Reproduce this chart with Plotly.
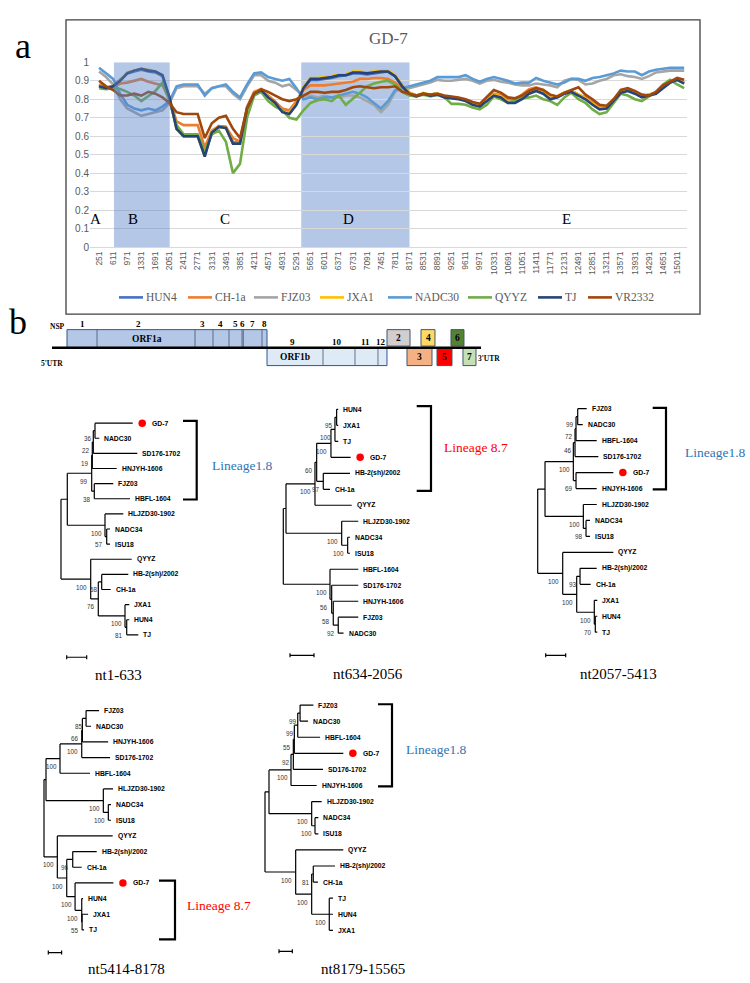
import plotly.graph_objects as go

W, H = 750, 983

# ================= panel a : similarity plot data =================
window_pos = list(range(251, 15192, 180))          # window centres (bp)
tick_pos = list(range(251, 15012, 360))            # category labels shown
series_names = ["HUN4", "CH-1a", "FJZ03", "JXA1", "NADC30", "QYYZ", "TJ", "VR2332"]
series_colors = ["#4472C4", "#ED7D31", "#A5A5A5", "#FFC000", "#5B9BD5", "#70AD47", "#264478", "#9E480E"]

HUN4 = [0.875, 0.865, 0.87, 0.905, 0.94, 0.95, 0.96, 0.95, 0.945, 0.925, 0.80, 0.64,
        0.60, 0.60, 0.60, 0.50, 0.62, 0.655, 0.65, 0.565, 0.565, 0.755, 0.835, 0.85,
        0.815, 0.785, 0.74, 0.725, 0.775, 0.86, 0.905, 0.905, 0.91, 0.915, 0.925, 0.93,
        0.94, 0.94, 0.935, 0.94, 0.945, 0.95, 0.925, 0.875, 0.835, 0.82, 0.83, 0.825,
        0.83, 0.815, 0.81, 0.805, 0.795, 0.775, 0.765, 0.795, 0.825, 0.815, 0.785, 0.785,
        0.805, 0.835, 0.85, 0.835, 0.805, 0.81, 0.83, 0.845, 0.825, 0.805, 0.775, 0.75,
        0.755, 0.795, 0.84, 0.85, 0.835, 0.815, 0.825, 0.835, 0.865, 0.89, 0.905, 0.89]
CH1a = [0.88, 0.86, 0.865, 0.885, 0.89, 0.90, 0.91, 0.895, 0.885, 0.875, 0.80, 0.68,
        0.66, 0.66, 0.66, 0.54, 0.63, 0.655, 0.65, 0.59, 0.57, 0.76, 0.84, 0.855,
        0.82, 0.79, 0.75, 0.74, 0.79, 0.85, 0.875, 0.875, 0.875, 0.88, 0.885, 0.89,
        0.895, 0.91, 0.91, 0.915, 0.915, 0.91, 0.89, 0.855, 0.835, 0.82, 0.83, 0.825,
        0.83, 0.815, 0.81, 0.805, 0.795, 0.78, 0.77, 0.80, 0.83, 0.82, 0.80, 0.80,
        0.825, 0.855, 0.865, 0.85, 0.82, 0.815, 0.835, 0.845, 0.825, 0.81, 0.785, 0.76,
        0.76, 0.80, 0.84, 0.85, 0.835, 0.815, 0.825, 0.835, 0.865, 0.89, 0.905, 0.89]
FJZ03 = [0.95, 0.92, 0.88, 0.80, 0.75, 0.73, 0.71, 0.72, 0.73, 0.74, 0.78, 0.86,
         0.87, 0.87, 0.87, 0.83, 0.86, 0.87, 0.87, 0.83, 0.80, 0.87, 0.93, 0.93,
         0.90, 0.89, 0.87, 0.88, 0.85, 0.82, 0.82, 0.81, 0.82, 0.81, 0.81, 0.82,
         0.82, 0.81, 0.79, 0.77, 0.73, 0.77, 0.84, 0.86, 0.86, 0.87, 0.88, 0.89,
         0.905, 0.90, 0.90, 0.905, 0.91, 0.90, 0.885, 0.90, 0.905, 0.895, 0.89, 0.88,
         0.875, 0.875, 0.885, 0.88, 0.875, 0.865, 0.90, 0.91, 0.905, 0.88, 0.885, 0.90,
         0.91, 0.93, 0.935, 0.925, 0.92, 0.91, 0.925, 0.945, 0.95, 0.955, 0.955, 0.955]
JXA1 = [0.87, 0.86, 0.87, 0.90, 0.945, 0.955, 0.965, 0.96, 0.95, 0.93, 0.81, 0.64,
        0.60, 0.60, 0.60, 0.49, 0.625, 0.65, 0.645, 0.56, 0.56, 0.75, 0.83, 0.855,
        0.815, 0.78, 0.735, 0.725, 0.775, 0.865, 0.915, 0.915, 0.92, 0.925, 0.935, 0.935,
        0.95, 0.95, 0.945, 0.95, 0.955, 0.955, 0.93, 0.875, 0.835, 0.82, 0.835, 0.825,
        0.83, 0.815, 0.81, 0.805, 0.795, 0.775, 0.765, 0.795, 0.825, 0.815, 0.785, 0.785,
        0.805, 0.835, 0.85, 0.835, 0.805, 0.815, 0.835, 0.845, 0.825, 0.805, 0.775, 0.75,
        0.755, 0.795, 0.84, 0.85, 0.835, 0.815, 0.825, 0.835, 0.865, 0.89, 0.91, 0.89]
NADC30 = [0.97, 0.94, 0.91, 0.83, 0.77, 0.75, 0.74, 0.75, 0.74, 0.76, 0.79, 0.87,
          0.88, 0.88, 0.88, 0.82, 0.86, 0.87, 0.88, 0.84, 0.81, 0.88, 0.94, 0.945,
          0.92, 0.91, 0.90, 0.91, 0.86, 0.80, 0.81, 0.80, 0.81, 0.81, 0.82, 0.83,
          0.84, 0.83, 0.81, 0.78, 0.75, 0.79, 0.85, 0.86, 0.87, 0.88, 0.89, 0.90,
          0.92, 0.92, 0.92, 0.92, 0.93, 0.91, 0.895, 0.91, 0.92, 0.91, 0.90, 0.885,
          0.89, 0.89, 0.915, 0.90, 0.89, 0.88, 0.89, 0.91, 0.91, 0.90, 0.915, 0.92,
          0.93, 0.94, 0.955, 0.95, 0.95, 0.93, 0.95, 0.96, 0.965, 0.97, 0.97, 0.97]
QYYZ = [0.86, 0.855, 0.86, 0.855, 0.84, 0.82, 0.79, 0.82, 0.845, 0.89, 0.79, 0.66,
        0.61, 0.61, 0.61, 0.52, 0.61, 0.63, 0.57, 0.40, 0.45, 0.70, 0.82, 0.84,
        0.79, 0.76, 0.74, 0.70, 0.69, 0.74, 0.78, 0.795, 0.80, 0.79, 0.82, 0.77,
        0.80, 0.835, 0.87, 0.885, 0.895, 0.90, 0.88, 0.84, 0.82, 0.815, 0.825, 0.815,
        0.825, 0.81, 0.775, 0.775, 0.77, 0.755, 0.745, 0.77, 0.815, 0.80, 0.78, 0.795,
        0.805, 0.81, 0.82, 0.80, 0.79, 0.77, 0.81, 0.835, 0.80, 0.78, 0.745, 0.72,
        0.73, 0.78, 0.83, 0.82, 0.80, 0.79, 0.815, 0.84, 0.88, 0.905, 0.88, 0.86]
TJ = [0.87, 0.86, 0.87, 0.90, 0.94, 0.955, 0.965, 0.955, 0.95, 0.93, 0.81, 0.64,
      0.60, 0.60, 0.60, 0.49, 0.62, 0.65, 0.645, 0.56, 0.56, 0.75, 0.83, 0.85,
      0.81, 0.78, 0.73, 0.72, 0.77, 0.86, 0.91, 0.91, 0.915, 0.92, 0.93, 0.93,
      0.945, 0.945, 0.94, 0.945, 0.95, 0.95, 0.925, 0.87, 0.83, 0.815, 0.83, 0.82,
      0.825, 0.81, 0.805, 0.80, 0.79, 0.77, 0.76, 0.79, 0.82, 0.81, 0.78, 0.78,
      0.80, 0.83, 0.845, 0.83, 0.80, 0.81, 0.83, 0.84, 0.82, 0.80, 0.77, 0.745,
      0.75, 0.79, 0.835, 0.845, 0.83, 0.81, 0.82, 0.83, 0.86, 0.89, 0.905, 0.885]
VR2332 = [0.90, 0.87, 0.85, 0.82, 0.82, 0.83, 0.82, 0.84, 0.83, 0.81, 0.78, 0.73,
          0.72, 0.72, 0.72, 0.59, 0.67, 0.70, 0.71, 0.64, 0.59, 0.75, 0.83, 0.855,
          0.84, 0.82, 0.80, 0.79, 0.80, 0.82, 0.84, 0.84, 0.835, 0.84, 0.84, 0.85,
          0.865, 0.87, 0.865, 0.86, 0.865, 0.865, 0.87, 0.84, 0.83, 0.82, 0.83, 0.825,
          0.83, 0.82, 0.815, 0.81, 0.80, 0.785, 0.775, 0.81, 0.85, 0.835, 0.81, 0.805,
          0.82, 0.845, 0.86, 0.85, 0.825, 0.815, 0.835, 0.85, 0.865, 0.825, 0.80, 0.77,
          0.765, 0.80, 0.85, 0.86, 0.845, 0.825, 0.82, 0.84, 0.875, 0.895, 0.915, 0.905]
series_values = [HUN4, CH1a, FJZ03, JXA1, NADC30, QYYZ, TJ, VR2332]

shaded_regions = [[634, 2056], [5414, 8178]]
region_letters = ["A", "B", "C", "D", "E"]
region_letter_pos = [174, 1119, 3468, 6608, 12199]

# ================= panel b : genome map data (schematic units 0-100) =================
orf_labels = ["ORF1a", "ORF1b", "2", "3", "4", "5", "6", "7"]
orf_start = [1.66, 49.17, 77.67, 82.42, 85.75, 89.55, 92.87, 95.72]
orf_end = [49.17, 77.67, 83.14, 88.36, 89.07, 93.11, 95.96, 98.81]
orf_row = [1, -1, 1, -1, 1, -1, 1, -1]
orf_fill = ["#B4C7E7", "#DEEBF7", "#D0CECE", "#F4B183", "#FFD966", "#FF0000", "#548235", "#C5E0B4"]
orf_text_pos = [20.67, 55.82, None, None, None, None, None, None]
nsp_bounds_1a = [8.79, 32.07, 36.34, 40.14, 43.23, 43.54, 47.98]
nsp_bounds_1b = [62.47, 70.07, 75.53]
nsp_labels = ["1", "2", "3", "4", "5", "6", "7", "8", "9", "10", "11", "12"]
nsp_label_pos = [5.23, 18.53, 33.73, 38.24, 41.57, 43.23, 45.84, 48.69, 55.34, 65.8, 72.68, 76.25]

# ================= phylogenetic trees (Newick, substitutions/site) =================
TREE_1 = ("(((((('GD-7':0.0377,NADC30:0.0043)36:0.0017,SD176-1702:0.044)22:0.001,HNJYH-1606:0.0244)19:0.0006,"
          "(FJZ03:0.019,HBFL-1604:0.0357)38:0.0026)99:0.0244,(HLJZD30-1902:0.0183,(NADC34:0.0033,ISU18:0.0033)57:0.0017)100:0.0377):0.0063,"
          "(QYYZ:0.041,(('HB-2(sh)/2002':0.0266,CH-1a:0.009)58:0.0034,(JXA1:0.0043,(HUN4:0.0026,TJ:0.0116)81:0.0017)100:0.0267)76:0.0076)100:0.0297);")
TREE_2 = ("(((((((HUN4:0.0033,JXA1:0.0033)95:0.0035,TJ:0.0069)100:0.0083,'GD-7':0.041)100:0.0298,"
          "('HB-2(sh)/2002':0.0556,CH-1a:0.014)97:0.0138)60:0.0035,QYYZ:0.0765)100:0.0604,"
          "(HLJZD30-1902:0.0346,(NADC34:0.0048,ISU18:0.0048)100:0.0125)100:0.116):0.0056,"
          "(HBFL-1604:0.059,(SD176-1702:0.0554,(HNJYH-1606:0.0521,(FJZ03:0.0417,NADC30:0.011)92:0.0104)58:0.0033)56:0.0035)100:0.0973);")
TREE_3 = ("((((((FJZ03:0.0225,NADC30:0.0125)99:0.0042,HBFL-1604:0.0517)72:0.0025,SD176-1702:0.0583)46:0.0042,"
          "('GD-7':0.0933,HNJYH-1606:0.0517)69:0.0067)100:0.0708,(HLJZD30-1902:0.0335,(NADC34:0.01,ISU18:0.01)98:0.0067)100:0.0958):0.0183,"
          "(QYYZ:0.1265,(('HB-2(sh)/2002':0.0417,CH-1a:0.0267)93:0.0083,(JXA1:0.0075,(HUN4:0.005,TJ:0.005)70:0.0025)100:0.044)100:0.035)100:0.0625);")
TREE_4 = ("((((((FJZ03:0.0195,NADC30:0.0075)85:0.0055,HNJYH-1606:0.0386)66:0.001,SD176-1702:0.0425)100:0.0326,HBFL-1604:0.045)100:0.021,"
          "(HLJZD30-1902:0.0146,(NADC34:0.004,ISU18:0.004)100:0.0075)100:0.086):0.003,"
          "(QYYZ:0.083,(('HB-2(sh)/2002':0.036,CH-1a:0.0135)96:0.009,('GD-7':0.0575,(HUN4:0.002,(JXA1:0.009,TJ:0.003)55:0.0005)100:0.01)100:0.0125)100:0.0141)100:0.02);")
TREE_5 = ("(((((((FJZ03:0.02,NADC30:0.012)99:0.0035,HBFL-1604:0.0335)99:0.0051,'GD-7':0.0735)55:0.0015,SD176-1702:0.0445)92:0.0035,HNJYH-1606:0.0385)100:0.033,"
          "(HLJZD30-1902:0.015,(NADC34:0.005,ISU18:0.005)100:0.005)100:0.064):0.006,"
          "(QYYZ:0.0714,(('HB-2(sh)/2002':0.0326,CH-1a:0.007)81:0.0024,(TJ:0.0055,HUN4:0.0055,JXA1:0.0055)100:0.0264)100:0.024)100:0.046);")
tree_titles = ["nt1-633", "nt634-2056", "nt2057-5413", "nt5414-8178", "nt8179-15565"]
tree_scale_values = [0.02, 0.05, 0.05, 0.02, 0.02]
tree_scale_labels = ["0.02", "0.05", "0.050", "0.02", "0.02"]
tree_lineages = [("GD-7", "HBFL-1604", "Lineage1.8"), ("HUN4", "CH-1a", "Lineage 8.7"),
                 ("FJZ03", "HNJYH-1606", "Lineage1.8"), ("GD-7", "TJ", "Lineage 8.7"),
                 ("FJZ03", "HNJYH-1606", "Lineage1.8")]

# ------------------------------------------------------------------
BLUE_TXT = "#2E75B6"
RED_TXT = "#FF0000"
SERIF = "Liberation Serif"
SANS = "Liberation Sans"


def px2paper(px, py):
    return px / W, 1 - py / H


def paper_text(text, px, py, size, color="black", family=SERIF, xanchor="center"):
    x, y = px2paper(px, py)
    return dict(text=text, x=x, y=y, xref="paper", yref="paper", xanchor=xanchor, yanchor="middle",
                showarrow=False, font=dict(family=family, size=size, color=color))


fig = go.Figure()
annotations = []
shapes = []
layout_axes = {}

# ---------------- panel a ----------------
for name, col, vals in zip(series_names, series_colors, series_values):
    fig.add_trace(go.Scatter(x=window_pos, y=vals, mode="lines", name=name,
                             line=dict(color=col, width=2.6), xaxis="x", yaxis="y",
                             hoverinfo="skip", showlegend=False))

layout_axes["xaxis"] = dict(domain=[90 / W, 687 / W], range=[21, 15263], anchor="y",
                            tickmode="array", tickvals=tick_pos, ticktext=[str(t) for t in tick_pos],
                            tickangle=-90, tickfont=dict(family=SANS, size=8.5, color="#595959"),
                            showgrid=False, zeroline=False, showline=True, linecolor="#D9D9D9",
                            ticks="", fixedrange=True)
layout_axes["yaxis"] = dict(domain=[1 - 244 / H, 1 - 57 / H], range=[0, 1], anchor="x",
                            tick0=0, dtick=0.1, showgrid=True, gridcolor="#D9D9D9", gridwidth=1,
                            zeroline=False, showline=False, ticks="",
                            tickfont=dict(family=SANS, size=10, color="#595959"), fixedrange=True)

# shaded windows B (overlay) and D (underlay)
shapes.append(dict(type="rect", xref="x", yref="y", x0=shaded_regions[0][0], x1=shaded_regions[0][1],
                   y0=0, y1=1, fillcolor="rgba(88,130,202,0.45)", line=dict(width=0), layer="above"))
shapes.append(dict(type="rect", xref="x", yref="y", x0=shaded_regions[1][0], x1=shaded_regions[1][1],
                   y0=0, y1=1, fillcolor="#B4C7E7", line=dict(width=0), layer="below"))
for lt, lp in zip(region_letters, region_letter_pos):
    annotations.append(dict(text=lt, x=lp, y=0.15, xref="x", yref="y", showarrow=False,
                            xanchor="center", yanchor="middle",
                            font=dict(family=SERIF, size=15, color="black")))
# chart frame and title
fx0, fy0 = px2paper(66, 312)
fx1, fy1 = px2paper(700, 14)
shapes.append(dict(type="rect", xref="paper", yref="paper", x0=fx0, x1=fx1, y0=fy0, y1=fy1,
                   line=dict(color="#404040", width=1.3), fillcolor="rgba(0,0,0,0)", layer="above"))
annotations.append(paper_text("GD-7", 388, 33, 17, "#595959"))
annotations.append(paper_text("a", 23, 40, 36))
annotations.append(paper_text("b", 18, 320, 36))

# legend row (Excel style: short line key followed by the series name)
legend_key_px = [119, 188, 254, 320, 388, 468, 538, 588]
legend_py = 295
for name, col, kx in zip(series_names, series_colors, legend_key_px):
    lx0, ly0 = px2paper(kx, legend_py)
    lx1, _ = px2paper(kx + 24, legend_py)
    shapes.append(dict(type="line", xref="paper", yref="paper", x0=lx0, x1=lx1, y0=ly0, y1=ly0,
                       line=dict(color=col, width=2.6)))
    annotations.append(paper_text(name, kx + 25, legend_py, 11.5, "#595959", xanchor="left"))

# ---------------- panel b : genome map ----------------
# schematic unit u maps to pixel 60 + 4.21*u
layout_axes["xaxis2"] = dict(domain=[40 / W, 500 / W], range=[(40 - 60) / 4.21, (500 - 60) / 4.21],
                             anchor="y2", visible=False, fixedrange=True)
layout_axes["yaxis2"] = dict(domain=[1 - 371.5 / H, 1 - 318.8 / H], range=[-1.5, 1.6], anchor="x2",
                             visible=False, fixedrange=True)
TOP = (0.1, 1.08)
BOT = (-1.06, -0.04)
for i, (lab, s, e, row, fill) in enumerate(zip(orf_labels, orf_start, orf_end, orf_row, orf_fill)):
    y0, y1 = TOP if row > 0 else BOT
    if i == 0:
        y0 = 0.0
    shapes.append(dict(type="rect", xref="x2", yref="y2", x0=s, x1=e, y0=y0, y1=y1,
                       fillcolor=fill, line=dict(color="#2F5597" if i < 2 else "#44546A", width=1)))
    tpos = orf_text_pos[i] if orf_text_pos[i] is not None else (s + e) / 2
    annotations.append(dict(text="<b>%s</b>" % lab, x=tpos, y=(y0 + y1) / 2, xref="x2", yref="y2",
                            showarrow=False, xanchor="center", yanchor="middle",
                            font=dict(family=SERIF, size=9.5, color="black")))
for b in nsp_bounds_1a:
    shapes.append(dict(type="line", xref="x2", yref="y2", x0=b, x1=b, y0=0, y1=1.08,
                       line=dict(color="#44546A", width=0.8)))
for b in nsp_bounds_1b:
    shapes.append(dict(type="line", xref="x2", yref="y2", x0=b, x1=b, y0=-1.06, y1=-0.04,
                       line=dict(color="#44546A", width=0.8)))
shapes.append(dict(type="line", xref="x2", yref="y2", x0=-1.9, x1=100, y0=0, y1=0,
                   line=dict(color="black", width=2.5)))
for k, (lab, pos) in enumerate(zip(nsp_labels, nsp_label_pos)):
    annotations.append(dict(text="<b>%s</b>" % lab, x=pos, y=1.41 if k < 8 else 0.36, xref="x2", yref="y2",
                            showarrow=False, xanchor="center", yanchor="middle",
                            font=dict(family=SERIF, size=9, color="black")))
for txt, xx, yy in (("NSP", -0.6, 1.29), ("5'UTR", -1.9, -0.94), ("3'UTR", 101.9, -0.65)):
    annotations.append(dict(text="<b>%s</b>" % txt, x=xx, y=yy, xref="x2", yref="y2", showarrow=False,
                            xanchor="center", yanchor="middle",
                            font=dict(family=SERIF, size=7.5, color="black")))


# ---------------- trees ----------------
def parse_newick(s):
    pos = [0]

    def node():
        ch = []
        if s[pos[0]] == "(":
            pos[0] += 1
            while True:
                ch.append(node())
                c = s[pos[0]]
                pos[0] += 1
                if c == ")":
                    break
        label = ""
        if s[pos[0]] == "'":
            end = s.index("'", pos[0] + 1)
            label = s[pos[0] + 1:end]
            pos[0] = end + 1
        else:
            while s[pos[0]] not in ":,();":
                label += s[pos[0]]
                pos[0] += 1
        length = 0.0
        if s[pos[0]] == ":":
            pos[0] += 1
            num = ""
            while s[pos[0]] not in ",();":
                num += s[pos[0]]
                pos[0] += 1
            length = float(num)
        return {"label": label, "len": length, "children": ch}

    return node()


def assign(node, x, counter, leaves):
    node["x"] = x
    if not node["children"]:
        node["y"] = counter[0]
        counter[0] += 1
        leaves.append(node)
    else:
        for c in node["children"]:
            assign(c, x + c["len"], counter, leaves)
        node["y"] = (node["children"][0]["y"] + node["children"][-1]["y"]) / 2


def collect(node, xs, ys, internals):
    if node["children"]:
        internals.append(node)
        xs += [node["x"], node["x"], None]
        ys += [node["children"][0]["y"], node["children"][-1]["y"], None]
        for c in node["children"]:
            xs += [node["x"], c["x"], None]
            ys += [c["y"], c["y"], None]
            collect(c, xs, ys, internals)


# placement of each tree panel on the page (pixels)
tree_place = [
    dict(root_px=61.0, upp=0.001, leaf0=422.3, sp=15.31, box=(55, 250, 400, 668),
         br=(183, 196.7, 0.15, 0.05), lin=(210, 465, BLUE_TXT), bar=(66.7, 659.3, 670), title=(118, 677)),
    dict(root_px=283.3, upp=0.05 / 24, leaf0=408.3, sp=16.19, box=(275, 505, 395, 668),
         br=(416.7, 431, 0.2, 0.1), lin=(441.7, 446.7, RED_TXT), bar=(290, 657.3, 669), title=(368, 676)),
    dict(root_px=537.7, upp=0.0025, leaf0=407.7, sp=16.16, box=(530, 745, 395, 668),
         br=(652.7, 666, 0.05, 0.05), lin=(682.7, 451.7, BLUE_TXT), bar=(545.7, 657.3, 669), title=(618, 676)),
    dict(root_px=44.0, upp=0.0015, leaf0=713.3, sp=15.86, box=(38, 260, 700, 965),
         br=(159, 175, 0.15, 0.6), lin=(185, 910.7, RED_TXT), bar=(48.3, 958.3, 968.3), title=(126, 975)),
    dict(root_px=265.0, upp=0.0015, leaf0=707.7, sp=16.29, box=(258, 480, 695, 965),
         br=(378, 392, 0.05, 0.05), lin=(404, 752.3, BLUE_TXT), bar=(279, 957, 967), title=(363, 975)),
]

for ti, (nwk, pl) in enumerate(zip([TREE_1, TREE_2, TREE_3, TREE_4, TREE_5], tree_place)):
    xa = "x%d" % (ti + 3)
    ya = "y%d" % (ti + 3)
    rp, upp, l0, sp = pl["root_px"], pl["upp"], pl["leaf0"], pl["sp"]
    bx0, bx1, by0, by1 = pl["box"]

    def TX(px):
        return (px - rp) * upp

    def TY(py):
        return (py - l0) / sp

    layout_axes["xaxis%d" % (ti + 3)] = dict(domain=[bx0 / W, bx1 / W], range=[TX(bx0), TX(bx1)],
                                            anchor=ya, visible=False, fixedrange=True)
    layout_axes["yaxis%d" % (ti + 3)] = dict(domain=[1 - by1 / H, 1 - by0 / H], range=[TY(by1), TY(by0)],
                                            anchor=xa, visible=False, fixedrange=True)
    root = parse_newick(nwk)
    leaves = []
    assign(root, 0.0, [0], leaves)
    xs, ys, internals = [], [], []
    collect(root, xs, ys, internals)
    fig.add_trace(go.Scatter(x=xs, y=ys, mode="lines", line=dict(color="black", width=1.2),
                             xaxis=xa, yaxis=ya, showlegend=False, hoverinfo="skip", cliponaxis=False))
    leaf_by_name = {}
    for lf in leaves:
        leaf_by_name[lf["label"]] = lf
        if lf["label"] == "GD-7":
            fig.add_trace(go.Scatter(x=[lf["x"] + 9.5 * upp], y=[lf["y"]], mode="markers",
                                     marker=dict(color="#FF0000", size=7.5), xaxis=xa, yaxis=ya,
                                     showlegend=False, hoverinfo="skip", cliponaxis=False))
            shift = 17.5
        else:
            shift = 3
        annotations.append(dict(text=lf["label"], x=lf["x"], y=lf["y"], xref=xa, yref=ya,
                                xanchor="left", yanchor="middle", xshift=shift, showarrow=False,
                                font=dict(family=SANS, size=6.8, color="black", weight="bold")))
    for nd in internals:
        if nd["label"]:
            annotations.append(dict(text=nd["label"], x=nd["x"], y=nd["y"], xref=xa, yref=ya,
                                    xanchor="right", yanchor="middle", xshift=-1.5, yshift=-8,
                                    showarrow=False, font=dict(family=SANS, size=6.3, color="#333333")))
    # lineage bracket
    first, last, lin_txt = tree_lineages[ti]
    xin, xout, pad_t, pad_b = pl["br"]
    yt = leaf_by_name[first]["y"] - pad_t
    yb = leaf_by_name[last]["y"] + pad_b
    fig.add_trace(go.Scatter(x=[TX(xin), TX(xout), TX(xout), TX(xin)], y=[yt, yt, yb, yb], mode="lines",
                             line=dict(color="black", width=2.2), xaxis=xa, yaxis=ya,
                             showlegend=False, hoverinfo="skip", cliponaxis=False))
    lx, ly, lcol = pl["lin"]
    annotations.append(paper_text(lin_txt, lx, ly, 13.5, lcol, xanchor="left"))
    # scale bar
    sbx, sby, sly = pl["bar"]
    x0b = TX(sbx)
    x1b = x0b + tree_scale_values[ti]
    yb0 = TY(sby)
    tick = 2.0 / sp
    fig.add_trace(go.Scatter(x=[x0b, x1b, None, x0b, x0b, None, x1b, x1b],
                             y=[yb0, yb0, None, yb0 - tick, yb0 + tick, None, yb0 - tick, yb0 + tick],
                             mode="lines", line=dict(color="black", width=1.2), xaxis=xa, yaxis=ya,
                             showlegend=False, hoverinfo="skip", cliponaxis=False))
    annotations.append(dict(text=tree_scale_labels[ti], x=(x0b + x1b) / 2, y=TY(sly), xref=xa, yref=ya,
                            showarrow=False, xanchor="center", yanchor="middle",
                            font=dict(family=SANS, size=6, color="#333333")))
    annotations.append(paper_text(tree_titles[ti], pl["title"][0], pl["title"][1], 15))

fig.update_layout(
    width=W, height=H, margin=dict(l=0, r=0, t=0, b=0),
    paper_bgcolor="white", plot_bgcolor="rgba(0,0,0,0)",
    showlegend=False, hovermode=False,
    annotations=annotations, shapes=shapes, **layout_axes)

fig.write_html("out.html", config={"displayModeBar": False, "staticPlot": True},
               post_script="document.body.style.margin='0';document.body.style.padding='0';"
                           "document.body.style.overflow='hidden';")
